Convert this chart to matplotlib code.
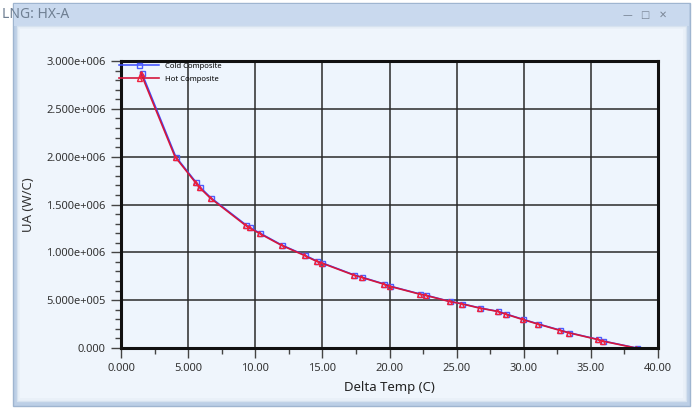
import matplotlib
matplotlib.use("Agg")
import matplotlib.pyplot as plt
from matplotlib.patches import Rectangle
from matplotlib.ticker import MultipleLocator, FuncFormatter

# composite curves, delta T (C) vs UA (W/C)
hot_dt = [1.47, 4.02, 5.49, 5.83, 6.63, 9.24, 9.51, 10.30, 11.90, 13.62,
          14.52, 14.87, 17.26, 17.90, 19.54, 19.94, 22.22, 22.67, 24.41, 25.33,
          26.69, 28.03, 28.63, 29.87, 30.96, 32.60, 33.32, 35.43, 35.85, 38.34]
cold_dt = [1.55, 4.08, 5.55, 5.90, 6.70, 9.32, 9.58, 10.38, 11.97, 13.70,
           14.60, 14.95, 17.33, 17.98, 19.62, 20.02, 22.30, 22.75, 24.48, 25.40,
           26.77, 28.10, 28.70, 29.95, 31.03, 32.68, 33.40, 35.50, 35.93, 38.42]
ua = [2.875e6, 2.0e6, 1.74e6, 1.68e6, 1.57e6, 1.286e6, 1.26e6, 1.199e6, 1.077e6, 0.97e6,
      0.909e6, 0.892e6, 0.766e6, 0.739e6, 0.669e6, 0.648e6, 0.564e6, 0.551e6, 0.488e6, 0.463e6,
      0.418e6, 0.383e6, 0.355e6, 0.300e6, 0.254e6, 0.188e6, 0.160e6, 0.091e6, 0.073e6, 0.0]

plt.rcParams["font.family"] = ["Noto Sans", "DejaVu Sans"]

W, H = 699, 409
fig = plt.figure(figsize=(W / 100, H / 100), dpi=100)
fig.patch.set_facecolor("white")

def px(x0, y0, x1, y1, **kw):
    # rectangle in pixel coords (origin top-left)
    fig.patches.append(Rectangle((x0 / W, 1 - y1 / H), (x1 - x0) / W, (y1 - y0) / H,
                                 transform=fig.transFigure, figure=fig, zorder=-10, **kw))

# window frame
px(13, 3, 690, 406, facecolor="#bccfe6", edgecolor="#9fb5d0", lw=1)
px(14, 4, 689, 26, facecolor="#c9d9ee", edgecolor="none")
px(17, 26, 686, 401, facecolor="#e9f0f8", edgecolor="#d6e2ef", lw=1)
px(20, 29, 683, 398, facecolor="#eff5fc", edgecolor="none")
fig.text(2 / W, 1 - 15 / H, "LNG: HX-A", fontsize=10, color="#6f7f92", va="center")
for i, sym in enumerate(["\u2014", "\u25a1", "\u2715"]):
    fig.text((627 + i * 18) / W, 1 - 15 / H, sym, fontsize=7, color="#7a8696",
             va="center", ha="center", family="DejaVu Sans")

ax = fig.add_axes([121 / W, 1 - 348 / H, (658 - 121) / W, (348 - 61) / H])
ax.set_zorder(5)
ax.set_facecolor("#eef5fd")

ax.plot(cold_dt, ua, color="#3b4cff", lw=1.1, marker="s", ms=3.6, mfc="none",
        mec="#4b5cff", mew=1.0, label="Cold Composite")
ax.plot(hot_dt, ua, color="#d4163c", lw=1.2, marker="^", ms=3.6, mfc="none",
        mec="#f0203c", mew=1.0, label="Hot Composite")

ax.set_xlim(0, 40)
ax.set_ylim(0, 3e6)
ax.xaxis.set_major_locator(MultipleLocator(5))
ax.xaxis.set_minor_locator(MultipleLocator(2.5))
ax.yaxis.set_major_locator(MultipleLocator(5e5))
ax.yaxis.set_minor_locator(MultipleLocator(1e5))
ax.xaxis.set_major_formatter(FuncFormatter(lambda v, p: "%.3f" % v if v < 10 else "%.2f" % v))

def sci(v, p):
    if v == 0:
        return "0.000"
    m, e = ("%.3e" % v).split("e")
    return "%se%+04d" % (m, int(e))

ax.yaxis.set_major_formatter(FuncFormatter(sci))
ax.grid(True, which="major", color="#2a2a2a", lw=1.1)
ax.set_axisbelow(True)
for s in ax.spines.values():
    s.set_linewidth(2.2)
    s.set_color("#111111")
ax.tick_params(which="major", length=7, width=1, color="#444444", labelsize=8,
               labelcolor="#333333", pad=4)
ax.tick_params(which="minor", length=4, width=1, color="#444444")

ax.set_xlabel("Delta Temp (C)", fontsize=9.5, color="#222222", labelpad=5)
ax.set_ylabel("UA (W/C)", fontsize=9.5, color="#333333", labelpad=8)

leg = ax.legend(loc="upper left", bbox_to_anchor=(-0.012, 1.01), frameon=False,
                fontsize=5.5, handlelength=5.2, labelspacing=0.75, borderaxespad=0.2,
                handletextpad=0.8)

fig.savefig("out.png", dpi=100, facecolor=fig.get_facecolor())
